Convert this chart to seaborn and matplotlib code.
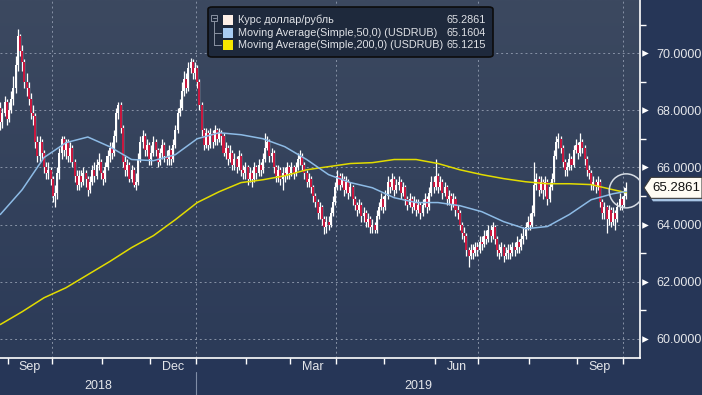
import numpy as np
import pandas as pd
import matplotlib
matplotlib.use("Agg")
import matplotlib.pyplot as plt
import seaborn as sns
from matplotlib.transforms import blended_transform_factory
from matplotlib.patches import FancyBboxPatch, Rectangle, Polygon
from matplotlib.colors import LinearSegmentedColormap
from matplotlib.lines import Line2D

# ---------------- data ----------------
close = [
    67.6, 67.9, 68.3, 67.7, 68.0, 68.4, 68.8, 69.6, 70.6, 70.1,
    69.7, 69.0, 68.8, 68.4, 67.9, 67.8, 66.9, 66.4, 66.9, 66.5,
    66.0, 65.8, 65.9, 65.6, 65.0, 65.1, 65.8, 66.5, 67.0, 66.6,
    66.9, 66.4, 66.7, 66.2, 65.7, 65.4, 65.7, 65.5, 65.8, 65.6,
    65.2, 65.5, 65.9, 65.7, 66.1, 66.2, 65.8, 65.6, 66.0, 66.4,
    66.7, 66.5, 67.1, 67.9, 68.2, 67.4, 66.2, 65.9, 66.1, 65.6,
    65.9, 65.4, 65.5, 66.3, 66.9, 67.1, 66.6, 66.8, 66.3, 66.5,
    66.9, 66.6, 66.2, 66.5, 66.8, 66.4, 66.3, 66.6, 66.3, 66.8,
    67.3, 67.9, 68.1, 68.7, 69.1, 68.8, 69.5, 69.7, 69.3, 69.5,
    69.0, 68.2, 67.3, 66.8, 67.2, 66.8, 67.2, 66.9, 67.3, 67.0, 67.2,
    67.1, 66.5, 66.7, 66.3, 66.5, 66.1, 66.3, 66.0, 66.4, 65.9,
    65.8, 66.0, 65.6, 65.8, 65.6, 66.0, 65.8, 66.1, 65.9, 66.3,
    66.7, 66.9, 66.4, 66.5, 66.0, 65.7, 65.9, 65.6, 65.8, 65.7,
    66.0, 65.8, 66.0, 65.8, 66.0, 66.3, 66.4, 66.1, 65.8, 65.5,
    65.6, 65.3, 65.0, 64.8, 64.4, 64.6, 64.2, 63.9, 64.1, 64.0,
    64.4, 64.8, 65.3, 65.7, 65.4, 65.6, 65.2, 65.5, 65.1, 65.3,
    64.9, 64.7, 64.5, 64.7, 64.3, 64.4, 64.1, 64.2, 63.9, 64.0,
    63.8, 64.3, 64.6, 64.9, 64.6, 65.0, 65.5, 65.3, 65.6, 65.2,
    65.4, 65.5, 65.1, 65.3, 64.9, 64.7, 64.9, 64.6, 64.8, 64.5,
    64.7, 64.4, 64.7, 64.9, 64.6, 65.1, 65.5, 65.3, 65.7, 65.3,
    65.5, 65.1, 65.3, 64.9, 65.0, 64.7, 64.9, 64.5, 64.4, 64.0,
    63.7, 63.6, 63.1, 62.9, 63.1, 63.0, 63.2, 63.1, 63.4, 63.3,
    63.6, 63.5, 63.8, 63.6, 63.9, 63.5, 63.1, 63.0, 63.2, 62.9, 63.0,
    63.1, 63.0, 63.2, 63.1, 63.4, 63.2, 63.5, 63.6, 63.9, 64.1,
    64.0, 64.4, 65.4, 65.6, 65.2, 65.5, 65.2, 65.5, 64.9, 65.3,
    65.6, 66.4, 66.9, 67.0, 66.7, 66.2, 65.9, 66.0, 66.3, 66.1,
    66.6, 66.8, 66.5, 66.9, 66.7, 66.3, 65.9, 65.8, 65.4, 65.5,
    65.3, 65.5, 64.8, 64.4, 64.6, 64.2, 64.5, 64.1, 64.4, 64.2,
    64.6, 64.9, 64.7, 65.0, 65.2861,
]
high = [
    68.3, 68.1, 68.5, 68.4, 68.3, 68.7, 69.2, 69.9, 70.85, 70.7,
    70.3, 69.8, 69.3, 69.0, 68.6, 68.2, 67.9, 67.1, 67.1, 67.0,
    66.6, 66.2, 66.2, 66.0, 65.7, 65.4, 66.0, 66.7, 67.1, 67.1,
    67.0, 67.0, 66.9, 66.8, 66.3, 65.9, 65.9, 65.9, 66.0, 65.9,
    65.7, 65.7, 66.1, 66.2, 66.3, 66.5, 66.3, 65.9, 66.2, 66.6,
    66.9, 66.9, 67.3, 68.1, 68.3, 68.3, 67.5, 66.4, 66.3, 66.2,
    66.1, 66.0, 65.8, 66.5, 67.1, 67.3, 67.2, 67.0, 66.9, 66.8,
    67.1, 67.0, 66.7, 66.7, 67.0, 66.9, 66.6, 66.8, 66.7, 67.0,
    67.5, 68.1, 68.4, 69.0, 69.4, 69.3, 69.7, 69.85, 69.8, 69.7,
    69.6, 69.1, 68.3, 67.4, 67.4, 67.3, 67.4, 67.3, 67.5, 67.4, 67.4,
    67.3, 67.2, 66.9, 66.8, 66.8, 66.6, 66.5, 66.4, 66.6, 66.5,
    66.1, 66.2, 66.1, 66.0, 65.9, 66.2, 66.1, 66.3, 66.2, 66.5,
    67.2, 67.1, 67.0, 66.7, 66.6, 66.1, 66.1, 66.0, 66.0, 66.0,
    66.2, 66.1, 66.2, 66.1, 66.2, 66.5, 66.6, 66.5, 66.2, 65.9,
    65.8, 65.7, 65.4, 65.1, 64.9, 64.8, 64.7, 64.3, 64.3, 64.3,
    64.6, 65.0, 65.5, 65.9, 65.8, 65.8, 65.7, 65.7, 65.6, 65.5,
    65.4, 65.0, 64.8, 64.9, 64.8, 64.6, 64.5, 64.4, 64.3, 64.2,
    64.1, 64.5, 64.8, 65.1, 65.0, 65.2, 65.7, 65.6, 65.8, 65.7,
    65.6, 65.7, 65.6, 65.5, 65.4, 65.0, 65.1, 65.0, 65.0, 64.9,
    64.9, 64.8, 64.9, 65.1, 65.0, 65.3, 65.7, 65.7, 66.3, 65.8,
    65.7, 65.6, 65.5, 65.4, 65.2, 65.1, 65.1, 65.0, 64.7, 64.5,
    64.1, 63.9, 63.7, 63.2, 63.3, 63.3, 63.4, 63.4, 63.6, 63.6,
    63.8, 63.8, 64.0, 64.0, 64.1, 64.0, 63.6, 63.3, 63.4, 63.3, 63.2,
    63.3, 63.3, 63.4, 63.4, 63.6, 63.5, 63.7, 63.9, 64.1, 64.3,
    64.4, 64.7, 66.2, 65.8, 65.7, 65.7, 65.6, 65.7, 65.6, 65.5,
    65.8, 66.6, 67.1, 67.2, 67.1, 66.8, 66.3, 66.2, 66.5, 66.4,
    66.8, 67.0, 66.9, 67.2, 67.0, 66.8, 66.4, 66.1, 65.9, 65.7,
    65.6, 65.7, 65.6, 64.9, 64.8, 64.7, 64.7, 64.6, 64.6, 64.5,
    64.8, 65.1, 65.0, 65.3, 65.5,
]
low = [
    67.3, 67.4, 67.8, 67.5, 67.6, 67.9, 68.2, 68.6, 69.4, 69.9,
    69.4, 68.8, 68.5, 68.2, 67.7, 67.5, 66.7, 66.2, 66.2, 66.3,
    65.8, 65.6, 65.6, 65.4, 64.8, 64.6, 64.9, 65.6, 66.3, 66.4,
    66.3, 66.2, 66.2, 66.0, 65.5, 65.2, 65.2, 65.3, 65.4, 65.3,
    65.0, 65.1, 65.4, 65.5, 65.6, 65.9, 65.6, 65.4, 65.5, 65.9,
    66.2, 66.3, 66.4, 66.9, 67.7, 67.2, 66.0, 65.7, 65.7, 65.5,
    65.5, 65.3, 65.2, 65.4, 66.2, 66.7, 66.4, 66.4, 66.1, 66.1,
    66.4, 66.4, 66.0, 66.1, 66.3, 66.2, 66.1, 66.1, 66.1, 66.2,
    66.7, 67.2, 67.8, 68.0, 68.5, 68.6, 68.7, 69.3, 69.1, 69.1,
    68.8, 68.0, 67.1, 66.6, 66.7, 66.6, 66.7, 66.7, 66.8, 66.8, 66.9,
    66.8, 66.4, 66.3, 66.1, 66.2, 65.9, 65.9, 65.8, 65.9, 65.7,
    65.6, 65.6, 65.4, 65.5, 65.3, 65.5, 65.6, 65.7, 65.7, 65.8,
    66.2, 66.6, 66.2, 66.2, 65.8, 65.5, 65.5, 65.4, 65.2, 65.5,
    65.6, 65.6, 65.7, 65.6, 65.7, 65.9, 66.1, 65.9, 65.6, 65.3,
    65.3, 65.1, 64.8, 64.6, 64.2, 64.2, 64.0, 63.65, 63.7, 63.8,
    63.9, 64.3, 64.7, 65.2, 65.2, 65.3, 65.0, 65.1, 64.9, 65.0,
    64.7, 64.5, 64.3, 64.4, 64.1, 64.1, 63.9, 63.9, 63.7, 63.7,
    63.7, 63.7, 64.2, 64.5, 64.4, 64.5, 64.9, 65.1, 65.2, 65.0,
    65.1, 65.2, 64.9, 65.0, 64.7, 64.5, 64.6, 64.4, 64.5, 64.3,
    64.4, 64.2, 64.3, 64.6, 64.4, 64.5, 65.0, 65.1, 65.2, 65.1,
    65.2, 64.9, 65.0, 64.7, 64.7, 64.5, 64.6, 64.3, 64.2, 63.8,
    63.5, 63.4, 62.9, 62.5, 62.8, 62.8, 62.9, 62.9, 63.0, 63.1,
    63.2, 63.3, 63.4, 63.4, 63.5, 63.3, 62.9, 62.8, 62.9, 62.7, 62.8,
    62.8, 62.8, 62.9, 62.9, 63.0, 63.0, 63.1, 63.3, 63.5, 63.8,
    63.8, 63.9, 64.3, 65.2, 65.0, 65.1, 64.9, 65.0, 64.7, 64.8,
    65.2, 65.5, 66.3, 66.7, 66.5, 66.0, 65.7, 65.7, 65.9, 65.9,
    66.0, 66.5, 66.3, 66.4, 66.5, 66.1, 65.7, 65.6, 65.2, 65.2,
    65.1, 65.2, 64.6, 64.2, 64.2, 63.7, 64.0, 63.9, 64.0, 63.8,
    64.1, 64.5, 64.5, 64.6, 64.9,
]
first_open = 68.1

ma_idx = [0, 10, 20, 30, 40, 50, 60, 70, 80, 90, 100, 110, 120, 130, 140,
          150, 160, 170, 180, 190, 200, 210, 220, 230, 240, 250, 260, 270, 280, 286]
ma50 = [64.35, 65.22, 66.35, 66.87, 67.07, 66.73, 66.28, 66.24, 66.45, 67.01,
        67.22, 67.15, 67.01, 66.73, 66.28, 65.75, 65.47, 65.29, 64.94, 64.77,
        64.77, 64.66, 64.45, 64.10, 63.85, 63.93, 64.35, 64.87, 65.08, 65.16]
ma200 = [60.49, 60.94, 61.43, 61.78, 62.24, 62.70, 63.19, 63.61, 64.17, 64.77,
         65.15, 65.47, 65.57, 65.71, 65.92, 66.03, 66.14, 66.17, 66.28, 66.28,
         66.14, 65.92, 65.75, 65.61, 65.50, 65.43, 65.43, 65.40, 65.22, 65.12]

legend_labels = ["Курс доллар/рубль",
                 "Moving Average(Simple,50,0) (USDRUB)",
                 "Moving Average(Simple,200,0) (USDRUB)"]
legend_values = ["65.2861", "65.1604", "65.1215"]
y_ticks = [60, 62, 64, 66, 68, 70]
month_labels = {(2018, 9): "Sep", (2018, 12): "Dec", (2019, 3): "Mar",
                (2019, 6): "Jun", (2019, 9): "Sep"}
last_value = 65.2861

# ---------------- styling ----------------
sns.set_theme(style="dark")
plt.rcParams["font.family"] = ["Liberation Sans", "DejaVu Sans"]

W, H = 702, 395
FIG_BG = "#263657"
TXT = "#e4e6ea"
C_UP = "#ffffff"
C_DN = "#c8183f"
C_MA50 = "#8dbbe6"
C_MA200 = "#e2dc00"

fig = plt.figure(figsize=(W / 100, H / 100), dpi=100, facecolor=FIG_BG)
ax_l, ax_r, ax_t, ax_b = 0, 640, 0, 358
ax = fig.add_axes([ax_l / W, 1 - ax_b / H, (ax_r - ax_l) / W, (ax_b - ax_t) / H])

n = len(close)
dates = pd.bdate_range(end="2019-10-02", periods=n)
df = pd.DataFrame({"date": dates, "close": close, "high": high, "low": low})
df["open"] = [first_open] + close[:-1]
df["idx"] = np.arange(n)
df["high"] = df[["high", "open", "close"]].max(axis=1)
df["low"] = df[["low", "open", "close"]].min(axis=1)

xlim = (-0.12, 292.3)
ylim = (59.316, 71.877)

# gradient background
cmap = LinearSegmentedColormap.from_list("bg", ["#2c3b58", "#3c4960"])
grad = np.linspace(0, 1, 256).reshape(-1, 1)
ax.imshow(grad, extent=[xlim[0], xlim[1], ylim[0], ylim[1]], origin="lower",
          aspect="auto", cmap=cmap, zorder=0)

# month boundaries
bounds = [i - 0.5 for i in range(1, n) if dates[i].month != dates[i - 1].month]
bounds_month = [(dates[i].year, dates[i].month) for i in range(1, n)
                if dates[i].month != dates[i - 1].month]
quarter_bounds = [b for b, (yy, mm) in zip(bounds, bounds_month) if mm in (1, 4, 7, 10)]

# gridlines
for b in quarter_bounds:
    ax.axvline(b, color="#8792a6", lw=0.7, ls=(0, (2, 3)), zorder=1)
for yv in y_ticks:
    ax.axhline(yv, color="#8792a6", lw=0.7, ls=(0, (2, 3)), zorder=1)

# candles
ax.vlines(df["idx"], df["low"], df["high"], color="white", lw=0.9, zorder=3)
up = df["close"] >= df["open"]
bot = np.minimum(df["open"], df["close"])
hgt = np.maximum((df["close"] - df["open"]).abs(), 0.05)
ax.bar(df["idx"][up], hgt[up], bottom=bot[up], width=0.92, color=C_UP,
       edgecolor="none", zorder=4)
ax.bar(df["idx"][~up], hgt[~up], bottom=bot[~up], width=0.92, color=C_DN,
       edgecolor="none", zorder=4)

# moving averages
ma_df = pd.DataFrame({"idx": ma_idx, "ma50": ma50, "ma200": ma200})
sns.lineplot(data=ma_df, x="idx", y="ma200", color=C_MA200, lw=1.1, ax=ax, zorder=5)
sns.lineplot(data=ma_df, x="idx", y="ma50", color=C_MA50, lw=1.1, ax=ax, zorder=5)

# circle around last value
ax.scatter([n - 1], [65.18], s=600, facecolors="none", edgecolors="#d6dce4",
           linewidths=1.1, zorder=6)

ax.set_xlim(*xlim)
ax.set_ylim(*ylim)
ax.set_xlabel("")
ax.set_ylabel("")
ax.grid(False)

# spines
for s in ["top", "left"]:
    ax.spines[s].set_visible(False)
for s in ["right", "bottom"]:
    ax.spines[s].set_visible(True)
    ax.spines[s].set_color("white")
    ax.spines[s].set_linewidth(1.2)

# x ticks
ax.set_xticks(bounds)
ax.set_xticklabels([])
ax.tick_params(axis="x", which="major", direction="out", length=4, width=1,
               color="white", bottom=True)
centers, labels = [], []
for (yy, mm), lab in month_labels.items():
    idxs = [i for i in range(n) if dates[i].year == yy and dates[i].month == mm]
    if idxs:
        centers.append((idxs[0] + idxs[-1]) / 2)
        labels.append(lab)
ax.set_xticks(centers, minor=True)
ax.set_xticklabels(labels, minor=True)
ax.tick_params(axis="x", which="minor", length=0, pad=2, labelsize=9,
               labelcolor=TXT)

# y ticks (right)
ax.yaxis.tick_right()
ax.set_yticks(y_ticks)
ax.set_yticklabels([f"{v:.4f}" for v in y_ticks])
ax.set_yticks([61, 63, 65, 67, 69, 71], minor=True)
ax.tick_params(axis="y", which="major", length=0, pad=12, labelsize=9,
               labelcolor=TXT, left=False, right=True)
ax.tick_params(axis="y", which="minor", direction="out", length=4, width=1,
               color="white", left=False, right=True)
tr = blended_transform_factory(ax.transAxes, ax.transData)
ax.scatter([1.0085] * len(y_ticks), y_ticks, marker=">", s=22, color="white",
           transform=tr, clip_on=False, zorder=7, linewidths=0)


def fx(px):
    return px / W


def fy(py):
    return 1 - py / H


# last value tag (pointer-shaped label with a light-blue shadow)
tag_py = ax.transData.transform((0, last_value))[1]
tag_py = H - tag_py  # pixel from top
t0, t1 = tag_py - 10.5, tag_py + 10.5
shadow = [(646, tag_py + 3), (653, t0 + 3), (702, t0 + 3), (702, t1 + 3), (653, t1 + 3)]
tag = [(644, tag_py), (651, t0), (702, t0), (702, t1), (651, t1)]
fig.add_artist(Polygon([(fx(a), fy(b)) for a, b in shadow], closed=True,
                       transform=fig.transFigure, fc="#a9c6e6", ec="none", zorder=8))
fig.add_artist(Polygon([(fx(a), fy(b)) for a, b in tag], closed=True,
                       transform=fig.transFigure, fc="#fffcf4", ec="#3a3a3a",
                       lw=0.8, zorder=9))
fig.text(fx(652), fy(tag_py), f"{last_value:.4f}", ha="left", va="center",
         fontsize=9.5, color="#111111", zorder=10)

# year labels & separator (figure pixel coords)
x_to_px = lambda xv: ax_l + (xv - xlim[0]) / (xlim[1] - xlim[0]) * (ax_r - ax_l)
jan_b = [b for b, (yy, mm) in zip(bounds, bounds_month) if (yy, mm) == (2019, 1)][0]
sep_px = x_to_px(jan_b)
fig.add_artist(Line2D([fx(sep_px), fx(sep_px)], [fy(372), fy(395)],
                      color="#7f8da6", lw=0.8))
fig.text(fx((0 + sep_px) / 2), fy(386), "2018", ha="center", va="center",
         fontsize=9, color=TXT)
fig.text(fx((sep_px + ax_r) / 2), fy(386), "2019", ha="center", va="center",
         fontsize=9, color=TXT)

# legend box
lx0, ly0, lx1, ly1 = 208, 7, 493, 57
fig.add_artist(FancyBboxPatch((fx(lx0), fy(ly1)), fx(lx1 - lx0), (ly1 - ly0) / H,
                              boxstyle="round,pad=0,rounding_size=0.006",
                              transform=fig.transFigure, fc="#1e293c",
                              ec="#0c0c0c", lw=1.2, zorder=10))
rows = [20, 33, 45]
sq_colors = ["#fdefe6", "#a9cdf2", "#f5e600"]
tc = "#8a93a3"
fig.add_artist(Rectangle((fx(211), fy(21)), fx(6), 6 / H, transform=fig.transFigure,
                         fc="none", ec=tc, lw=0.7, zorder=11))
fig.add_artist(Line2D([fx(212.5), fx(215.5)], [fy(18), fy(18)], color=tc, lw=0.7, zorder=11))
fig.add_artist(Line2D([fx(214), fx(214)], [fy(21), fy(45)], color=tc, lw=0.7, zorder=11))
for r in rows[1:]:
    fig.add_artist(Line2D([fx(214), fx(221)], [fy(r), fy(r)], color=tc, lw=0.7, zorder=11))
for r, c, lab, val in zip(rows, sq_colors, legend_labels, legend_values):
    fig.add_artist(Rectangle((fx(223), fy(r + 5)), fx(10), 10 / H,
                             transform=fig.transFigure, fc=c, ec="none", zorder=11))
    fig.text(fx(238), fy(r), lab, ha="left", va="center", fontsize=7.8,
             color="#dfe1e6", zorder=12)
    fig.text(fx(486), fy(r), val, ha="right", va="center", fontsize=7.8,
             color="#dfe1e6", zorder=12)

fig.savefig("out.png", dpi=100, facecolor=FIG_BG)
